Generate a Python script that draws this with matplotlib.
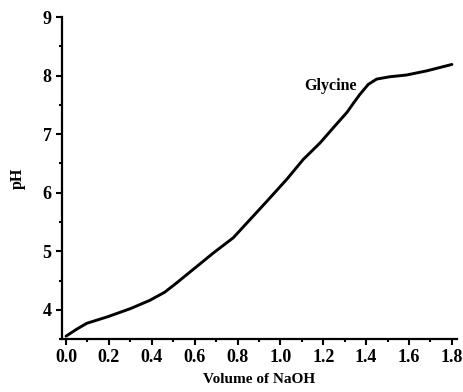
import numpy as np
import matplotlib.pyplot as plt
from matplotlib.ticker import MultipleLocator

plt.rcParams['font.family'] = ['Liberation Serif', 'DejaVu Serif']
plt.rcParams['font.weight'] = 'bold'

# titration curve
volume = [0.0, 0.05, 0.097, 0.197, 0.30, 0.39, 0.46, 0.516, 0.61, 0.687, 0.78,
          0.858, 0.936, 1.03, 1.107, 1.185, 1.247, 1.31, 1.345, 1.371, 1.41,
          1.449, 1.511, 1.589, 1.682, 1.80]
ph = [3.55, 3.67, 3.77, 3.885, 4.02, 4.16, 4.30, 4.46, 4.74, 4.97, 5.23,
      5.54, 5.85, 6.23, 6.57, 6.85, 7.11, 7.37, 7.55, 7.68, 7.85,
      7.94, 7.98, 8.01, 8.08, 8.19]

label_text = "Glycine"
label_pos = (1.11, 7.82)

fig = plt.figure(figsize=(4.64, 3.92), dpi=100)
ax = fig.add_axes([0.1336, 0.135, 0.985 - 0.1336, 0.9566 - 0.135])

ax.plot(volume, ph, color='black', lw=2.1, solid_capstyle='round',
        solid_joinstyle='round')
ax.text(label_pos[0], label_pos[1], label_text, fontsize=11.5, fontweight='bold',
        va='center', ha='left')

ax.set_xlim(-0.019, 1.824)
ax.set_ylim(3.5, 9)
ax.xaxis.set_minor_locator(MultipleLocator(0.1))
ax.yaxis.set_minor_locator(MultipleLocator(0.5))
xt = np.round(np.arange(0, 1.81, 0.2), 1)
ax.set_xticks(xt)
ax.set_xticklabels([f"{v:.1f}" for v in xt])
ax.set_yticks([4, 5, 6, 7, 8, 9])

for side in ['top', 'right']:
    ax.spines[side].set_visible(False)
for side in ['left', 'bottom']:
    ax.spines[side].set_linewidth(1.6)

ax.tick_params(which='major', direction='out', length=4, width=1.5, labelsize=13)
ax.tick_params(which='minor', direction='out', length=2.5, width=1.5)
for lbl in ax.get_xticklabels() + ax.get_yticklabels():
    lbl.set_fontweight('bold')

ax.set_xlabel("Volume of NaOH", fontsize=11, fontweight='bold', labelpad=5)
ax.set_ylabel("pH", fontsize=11.5, fontweight='bold', labelpad=12)

fig.savefig("out.png", dpi=100)
